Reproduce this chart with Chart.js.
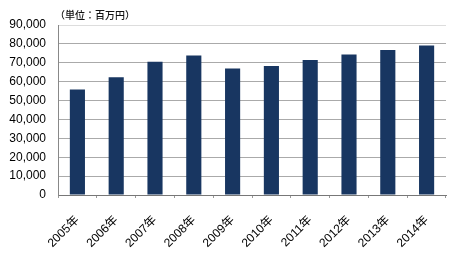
<!DOCTYPE html>
<html>
<head>
<meta charset="utf-8">
<script src="https://cdn.jsdelivr.net/npm/chart.js@4.4.0/dist/chart.umd.min.js"></script>
<style>
  html, body { margin: 0; padding: 0; background: #fff; }
  #wrap { width: 460px; height: 254px; }
</style>
</head>
<body>
<div id="wrap"><canvas id="chart" width="460" height="254"></canvas></div>
<script>
const years = ["2005年", "2006年", "2007年", "2008年", "2009年", "2010年", "2011年", "2012年", "2013年", "2014年"];
const sales = [55900, 62300, 70500, 73900, 67000, 68300, 71500, 74400, 76700, 79200];
const unitLabel = "（単位：百万円）";

const unitTitle = {
  id: "unitTitle",
  afterDraw(chart) {
    const ctx = chart.ctx;
    ctx.save();
    ctx.font = "500 10px 'Noto Sans CJK JP'";
    ctx.fillStyle = "#111";
    ctx.textBaseline = "middle";
    ctx.fillText(unitLabel, chart.chartArea.left - 3, 15);
    ctx.restore();
  }
};

window.onload = init;

function init() {
  const ctx = document.getElementById("chart");
  new Chart(ctx, {
    type: "bar",
    data: {
      labels: years,
      datasets: [{
        data: sales,
        backgroundColor: "#183661",
        categoryPercentage: 1,
        barPercentage: 0.39
      }]
    },
    options: {
      responsive: false,
      animation: false,
      layout: { padding: { top: 25, right: 14, left: 0, bottom: 0 } },
      plugins: {
        legend: { display: false },
        tooltip: { enabled: false }
      },
      scales: {
        x: {
          grid: {
            offset: true,
            drawOnChartArea: false,
            drawTicks: true,
            tickLength: 3,
            color: "#999"
          },
          border: { color: "#777", width: 1 },
          ticks: {
            font: { family: "'Liberation Sans', 'Noto Sans CJK JP'", size: 12 },
            color: "#000",
            maxRotation: 45,
            minRotation: 45,
            padding: 15
          },
          afterFit(scale) { scale.height = 59; }
        },
        y: {
          min: 0,
          max: 90000,
          ticks: {
            stepSize: 10000,
            font: { family: "'Liberation Sans'", size: 12 },
            color: "#000",
            padding: 12,
            callback: v => v.toLocaleString("en-US")
          },
          grid: {
            drawTicks: false,
            color: ctx => ctx.tick && ctx.tick.value === 90000 ? "#ddd" : "#aaa"
          },
          border: { color: "#888", width: 1 },
          afterFit(scale) { scale.width = 58; }
        }
      }
    },
    plugins: [unitTitle]
  });
}
</script>
</body>
</html>
